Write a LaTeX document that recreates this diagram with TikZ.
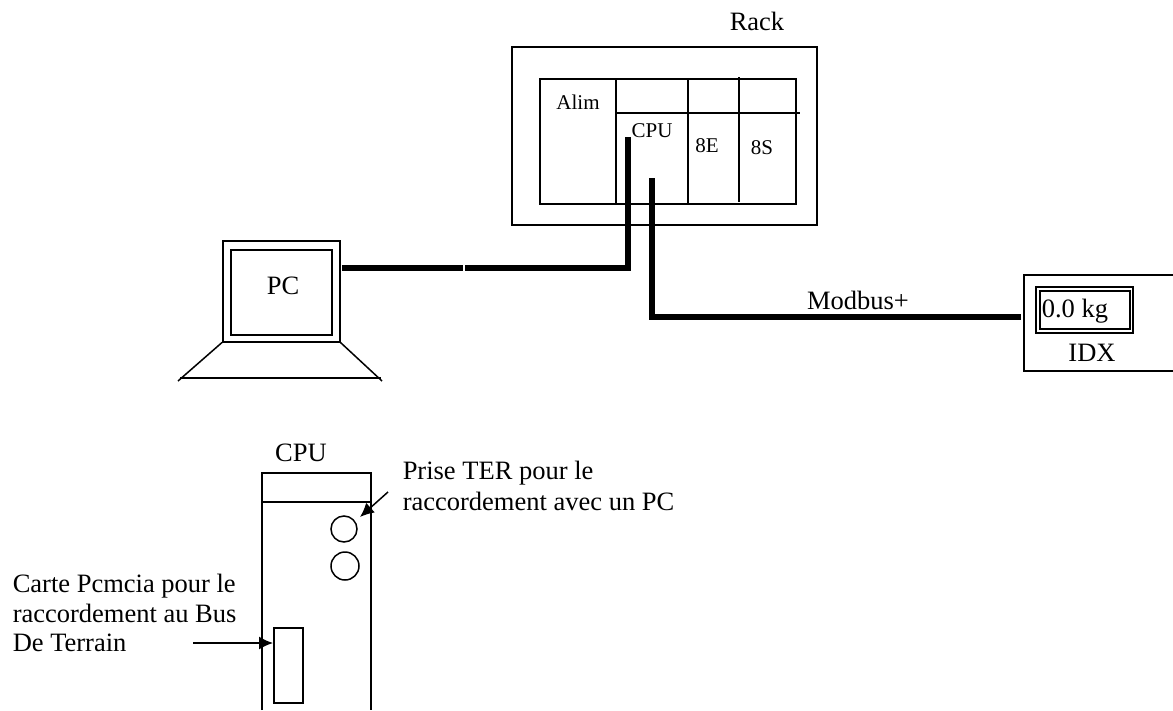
\documentclass[tikz,border=0pt]{standalone}
\usepackage{fontspec}
\setmainfont{Liberation Serif}
\usetikzlibrary{arrows.meta,calc}
\newcommand{\bigtxt}{\fontsize{26.5}{29.5}\selectfont}
\newcommand{\smalltxt}{\fontsize{21}{25}\selectfont}

\begin{document}
\begin{tikzpicture}[x=1pt,y=-1pt,>={Latex[length=14pt,width=13pt]},line width=1.5pt,
  txt/.style={inner sep=0pt,font=\bigtxt},
  slot/.style={inner sep=0pt,font=\smalltxt},
  box/.style={draw,inner sep=0pt,anchor=north west},
  cable/.style={line width=5.5pt}]
 \useasboundingbox (0,0) rectangle (1173,710);
 % rack
 \node[txt] (racktitle) at (757,21) {Rack};
 \draw[line width=2.2pt] (512,47) rectangle (817,225);
 \draw (540,79) rectangle (796,204);
 \draw (616,79)--(616,204);
 \draw (688,79)--(688,204);
 \draw (739,77)--(739,202);
 \draw (616,113)--(800,113);
 \node[slot] (alim) at (578,102) {Alim};
 \node[slot] (cpu) at (652,131) {CPU};
 \node[slot] (ecard) at (707,146) {8E};
 \node[slot] (scard) at (762,148) {8S};
 % pc
 \node[box,minimum width=117pt,minimum height=101pt] (pcframe) at (222,240) {};
 \node[box,minimum width=101pt,minimum height=85pt] (pcscreen) at (230,249) {};
 \node[txt] (pc) at (283,286) {PC};
 \draw (pcframe.south west)--(178,381);
 \draw (pcframe.south east)--(382,381);
 \draw (180,378)--(381,378);
 % indicator
 \draw (1173,275)--(1024,275)--(1024,371)--(1173,371);
 \node[box,minimum width=97pt,minimum height=46pt] (idxframe) at (1035,286) {};
 \node[box,line width=2pt,minimum width=90pt,minimum height=38pt] (idxscreen) at (1039,290) {};
 \node[txt,anchor=west] (weight) at (1041,311) {0.0 kg};
 \node[txt] (idx) at (1092,353) {IDX};
 % cables
 \coordinate (pcport) at (342,268);
 \coordinate (joint) at (463,268);
 \coordinate (jointb) at (465,268);
 \coordinate (terport) at (628,137);
 \coordinate (busport) at (652,178);
 \coordinate (idxport) at (1021,317);
 \draw[cable] (pcport)--(joint);
 \draw[cable] (jointb) -| (terport);
 \draw[cable] (busport) |- (idxport);
 \node[txt] (modbus) at (858,300) {Modbus+};
 % cpu detail
 \node[txt] (cputitle) at (301,453) {CPU};
 \draw (262,710)--(262,473)--(371,473)--(371,710);
 \draw (262,502)--(371,502);
 \node[draw,circle,inner sep=0pt,minimum size=26pt] (ter) at (344,529) {};
 \node[draw,circle,inner sep=0pt,minimum size=28pt] (terb) at (345,566) {};
 \node[box,minimum width=29pt,minimum height=75pt] (pcmcia) at (273,627) {};
 \node[txt,anchor=west,align=left] (priselbl) at (402,486) {Prise TER pour le\\[2pt]raccordement avec un PC};
 \node[txt,anchor=west,align=left] (cartelbl) at (12,613) {Carte Pcmcia pour le\\raccordement au Bus\\De Terrain};
 \coordinate (cartefrom) at (193,643);
 \coordinate (prisefrom) at (388,492);
 \coordinate (priseto) at (360,517);
 \draw[->] (cartefrom)--(pcmcia.west |- cartefrom);
 \draw[->] (prisefrom)--(priseto);
\end{tikzpicture}
\end{document}
